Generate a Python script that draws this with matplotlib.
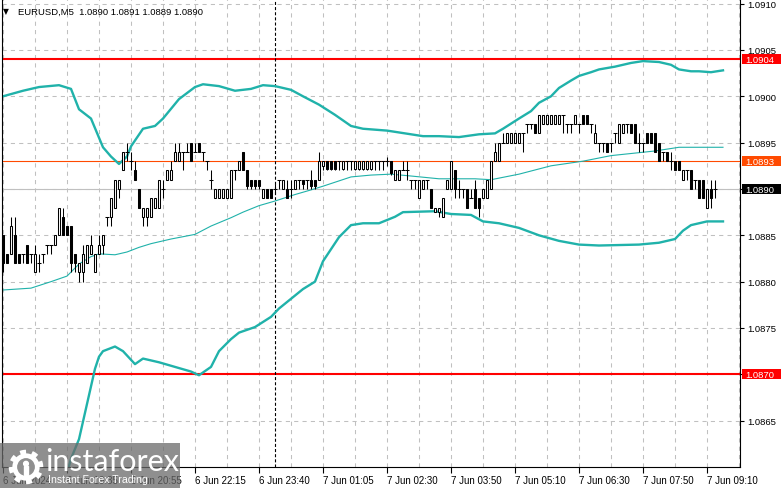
import matplotlib
matplotlib.use('Agg')
import matplotlib.pyplot as plt
import matplotlib.patches as mpatches
import matplotlib.transforms as mtransforms
from matplotlib import font_manager
import numpy as np

# EURUSD M5 candles, bar 0 = 6 Jun 18:15
opens = [
    1.0885, 1.0883, 1.0883, 1.0885, 1.0883, 1.0883, 1.0884, 1.0883, 1.0881, 1.0882,
    1.0883, 1.0884, 1.0884, 1.0884, 1.0885, 1.0887, 1.0886, 1.0886, 1.0883, 1.0881,
    1.0881, 1.0882, 1.0883, 1.0881, 1.0883, 1.0884, 1.0887, 1.0887, 1.0888, 1.0890,
    1.0892, 1.0894, 1.0893, 1.0892, 1.0890, 1.0887, 1.0887, 1.0887, 1.0888, 1.0888,
    1.0890, 1.0891, 1.0891, 1.0893, 1.0893, 1.0894, 1.0894, 1.0895, 1.0894, 1.0895,
    1.0894, 1.0893, 1.0891, 1.0889, 1.0889, 1.0889, 1.0889, 1.0889, 1.0892, 1.0892,
    1.0894, 1.0892, 1.0891, 1.0891, 1.0891, 1.0889, 1.0890, 1.0890, 1.0890, 1.0891,
    1.0890, 1.0890, 1.0890, 1.0890, 1.0891, 1.0891, 1.0891, 1.0891, 1.0891, 1.0891,
    1.08925, 1.0893, 1.0893, 1.0893, 1.0893, 1.08922, 1.0893, 1.0893, 1.08922, 1.08922,
    1.08922, 1.08922, 1.08922, 1.0893, 1.0893, 1.0893, 1.0893, 1.0893, 1.0891, 1.0891,
    1.0892, 1.0892, 1.0891, 1.0891, 1.0889, 1.0890, 1.0891, 1.0890, 1.08875, 1.08875,
    1.0887, 1.0890, 1.0890, 1.0892, 1.0890, 1.0890, 1.0890, 1.0889, 1.0890, 1.0889,
    1.0889, 1.0889, 1.0890, 1.0893, 1.0893, 1.0895, 1.0895, 1.0895, 1.0895, 1.0895,
    1.0896, 1.0897, 1.0897, 1.0897, 1.0896, 1.0897, 1.0897, 1.0897, 1.0897, 1.0897,
    1.0898, 1.0897, 1.0897, 1.0897, 1.0897, 1.0898, 1.0898, 1.0897, 1.0895, 1.0895,
    1.0895, 1.0895, 1.0895, 1.0896, 1.0895, 1.0896, 1.0897, 1.0897, 1.0897, 1.0895,
    1.0895, 1.0896, 1.0896, 1.0896, 1.0895, 1.0894, 1.0894, 1.0893, 1.0893, 1.0893,
    1.0891, 1.0892, 1.0892, 1.0891, 1.0891, 1.0891, 1.0888, 1.0890, 1.0890,
]
highs = [
    1.0885, 1.0883, 1.0887, 1.0887, 1.0883, 1.0883, 1.0884, 1.0883, 1.0884, 1.0883,
    1.0883, 1.0884, 1.0884, 1.0885, 1.0888, 1.0888, 1.0886, 1.0886, 1.0883, 1.0882,
    1.0884, 1.0884, 1.0885, 1.0883, 1.0885, 1.0885, 1.0887, 1.0889, 1.0891, 1.0891,
    1.0894, 1.0895, 1.0894, 1.0893, 1.0890, 1.0888, 1.0888, 1.0889, 1.0889, 1.0891,
    1.0891, 1.0892, 1.0893, 1.0895, 1.0895, 1.0894, 1.0895, 1.0895, 1.0895, 1.0895,
    1.0894, 1.0893, 1.0892, 1.0890, 1.0890, 1.0890, 1.0890, 1.0892, 1.0892, 1.0893,
    1.0894, 1.0892, 1.0891, 1.0891, 1.0891, 1.0890, 1.0890, 1.0890, 1.08905, 1.0891,
    1.0891, 1.0891, 1.0891, 1.0891, 1.0891, 1.0891, 1.0891, 1.0892, 1.0891, 1.0894,
    1.0893, 1.0893, 1.0893, 1.0893, 1.0893, 1.0893, 1.0893, 1.0893, 1.0893, 1.0893,
    1.0893, 1.0893, 1.0893, 1.0893, 1.0893, 1.0893, 1.08935, 1.0893, 1.0892, 1.0892,
    1.0893, 1.0893, 1.0891, 1.0891, 1.0891, 1.0891, 1.0891, 1.0890, 1.0888, 1.0888,
    1.0889, 1.0891, 1.0893, 1.0892, 1.0891, 1.0890, 1.0890, 1.0890, 1.0891, 1.0889,
    1.0890, 1.0891, 1.0893, 1.0895, 1.0895, 1.0896, 1.0896, 1.0896, 1.0896, 1.0896,
    1.0896, 1.0897, 1.0897, 1.0897, 1.0898, 1.0898, 1.0898, 1.0898, 1.0898, 1.0898,
    1.0898, 1.0897, 1.0897, 1.0898, 1.0897, 1.0898, 1.0898, 1.0897, 1.0897, 1.0895,
    1.0895, 1.0895, 1.0895, 1.0896, 1.0897, 1.0897, 1.0897, 1.0897, 1.0897, 1.0896,
    1.0895, 1.0896, 1.0896, 1.0896, 1.0895, 1.0894, 1.0894, 1.0894, 1.0893, 1.0893,
    1.0892, 1.0892, 1.0892, 1.0891, 1.0891, 1.0891, 1.0890, 1.0891, 1.0891,
]
lows = [
    1.0881, 1.0882, 1.0883, 1.0882, 1.0882, 1.0882, 1.0882, 1.0882, 1.0881, 1.0881,
    1.0882, 1.0883, 1.0883, 1.0884, 1.0885, 1.0885, 1.0885, 1.0881, 1.0881, 1.0880,
    1.0880, 1.0882, 1.0883, 1.0881, 1.0883, 1.0883, 1.0886, 1.0886, 1.0888, 1.0889,
    1.0892, 1.0893, 1.0892, 1.0891, 1.0888, 1.0886, 1.0886, 1.0887, 1.0888, 1.0888,
    1.0889, 1.0891, 1.0891, 1.0893, 1.0893, 1.0892, 1.0894, 1.0893, 1.0894, 1.0894,
    1.0893, 1.0892, 1.0890, 1.0889, 1.0889, 1.0889, 1.0889, 1.0889, 1.0891, 1.0892,
    1.0892, 1.0890, 1.0890, 1.0890, 1.0890, 1.0889, 1.0889, 1.0889, 1.08895, 1.0890,
    1.0890, 1.0889, 1.0889, 1.0890, 1.0890, 1.0890, 1.0890, 1.0890, 1.0890, 1.0891,
    1.0892, 1.0892, 1.0892, 1.0892, 1.0892, 1.0892, 1.0892, 1.0892, 1.0892, 1.0892,
    1.0892, 1.0892, 1.0892, 1.0892, 1.0892, 1.0892, 1.08925, 1.08915, 1.0891, 1.0891,
    1.0892, 1.0891, 1.0890, 1.0890, 1.0889, 1.0890, 1.0890, 1.0888, 1.08875, 1.0887,
    1.0887, 1.0890, 1.0890, 1.0889, 1.0889, 1.0889, 1.0888, 1.0889, 1.0888, 1.0887,
    1.0889, 1.0889, 1.0890, 1.0893, 1.0893, 1.0895, 1.0895, 1.0895, 1.0895, 1.0895,
    1.0894, 1.0896, 1.08965, 1.0896, 1.0896, 1.0897, 1.0897, 1.0897, 1.0897, 1.0897,
    1.0896, 1.0896, 1.0896, 1.0897, 1.0896, 1.0897, 1.0897, 1.0896, 1.0895, 1.0894,
    1.0894, 1.0894, 1.0894, 1.0895, 1.0895, 1.0896, 1.0896, 1.0896, 1.0895, 1.0894,
    1.0894, 1.0895, 1.0895, 1.0894, 1.0893, 1.0893, 1.0893, 1.0892, 1.0892, 1.0892,
    1.0891, 1.0891, 1.0890, 1.0890, 1.0889, 1.0889, 1.0888, 1.0888, 1.0889,
]
closes = [
    1.0882, 1.0882, 1.0886, 1.0882, 1.0882, 1.0883, 1.0882, 1.0883, 1.0883, 1.0882,
    1.0883, 1.0884, 1.0884, 1.0885, 1.0888, 1.0885, 1.0885, 1.0882, 1.0882, 1.0882,
    1.0883, 1.0884, 1.0884, 1.0883, 1.0884, 1.0885, 1.0887, 1.0889, 1.0891, 1.0891,
    1.0894, 1.0894, 1.0893, 1.0891, 1.0888, 1.0888, 1.0888, 1.0889, 1.0889, 1.0891,
    1.0890, 1.0892, 1.0892, 1.0894, 1.0894, 1.0894, 1.0894, 1.0893, 1.0894, 1.0894,
    1.0894, 1.0893, 1.0891, 1.0890, 1.0890, 1.0890, 1.0890, 1.0892, 1.0892, 1.0893,
    1.0892, 1.08903, 1.08903, 1.08903, 1.08903, 1.0890, 1.0889, 1.0889, 1.0890, 1.0891,
    1.0891, 1.0889, 1.0890, 1.0891, 1.0891, 1.08905, 1.0891, 1.08903, 1.08903, 1.0893,
    1.0893, 1.08922, 1.08922, 1.08922, 1.0893, 1.0893, 1.0893, 1.0893, 1.0893, 1.0893,
    1.0893, 1.0893, 1.0893, 1.0893, 1.0893, 1.0893, 1.0893, 1.08917, 1.0892, 1.0892,
    1.0892, 1.0892, 1.0891, 1.0891, 1.0891, 1.0891, 1.0891, 1.0888, 1.0888, 1.0888,
    1.0889, 1.0891, 1.0893, 1.0890, 1.0890, 1.0890, 1.0888, 1.0889, 1.0888, 1.0888,
    1.0890, 1.0891, 1.0893, 1.0894, 1.0895, 1.0895, 1.0896, 1.0896, 1.0896, 1.0896,
    1.0896, 1.0897, 1.0897, 1.0896, 1.0898, 1.0898, 1.0898, 1.0898, 1.0898, 1.0898,
    1.0898, 1.0897, 1.0897, 1.0898, 1.0897, 1.0897, 1.0897, 1.0897, 1.0896, 1.0895,
    1.0895, 1.0894, 1.0895, 1.0896, 1.0897, 1.0897, 1.0897, 1.0896, 1.0895, 1.0895,
    1.0895, 1.0895, 1.0895, 1.0894, 1.0893, 1.0894, 1.0893, 1.0893, 1.0892, 1.0892,
    1.0892, 1.0892, 1.0890, 1.0891, 1.0889, 1.0889, 1.0890, 1.0889, 1.0890,
]

# Bollinger bands (bar index, price)
bb_upper_bar = [0, 5, 9, 14, 17, 19, 22, 25, 27, 29, 31, 32, 35, 38, 40, 44, 48, 50, 54, 58,
                62, 65, 68, 72, 75, 79, 83, 87, 90, 96, 99, 105, 109, 114, 119, 123, 125, 129,
                132, 134, 137, 139, 142, 144, 147, 149, 153, 157, 160, 164, 167, 169, 172, 174,
                177, 180]
bb_upper = [1.09000, 1.09006, 1.09010, 1.09012, 1.09008, 1.08986, 1.08976, 1.08945, 1.08935,
            1.08927, 1.08935, 1.08946, 1.08965, 1.08968, 1.08976, 1.08997, 1.09010, 1.09013,
            1.09011, 1.09006, 1.09008, 1.09012, 1.09011, 1.09007, 1.09000, 1.08991, 1.08980,
            1.08968, 1.08965, 1.08963, 1.08961, 1.08957, 1.08957, 1.08956, 1.08959, 1.08960,
            1.08965, 1.08976, 1.08984, 1.08993, 1.09000, 1.09009, 1.09017, 1.09022, 1.09026,
            1.09029, 1.09032, 1.09036, 1.09038, 1.09037, 1.09034, 1.09029, 1.09027, 1.09027,
            1.09026, 1.09028]
bb_mid_bar = [0, 7, 12, 16, 19, 22, 24, 28, 31, 34, 37, 42, 48, 52, 57, 60, 64, 68, 73, 77,
              80, 87, 92, 97, 102, 109, 118, 122, 129, 137, 145, 152, 163, 169, 180]
bb_mid = [1.08791, 1.08793, 1.08800, 1.08806, 1.08819, 1.08827, 1.08830, 1.08829, 1.08832,
          1.08837, 1.08841, 1.08846, 1.08851, 1.08860, 1.08869, 1.08875, 1.08882, 1.08887,
          1.08894, 1.08899, 1.08903, 1.08913, 1.08915, 1.08916, 1.08914, 1.08911, 1.08911,
          1.08910, 1.08916, 1.08925, 1.08930, 1.08936, 1.08941, 1.08945, 1.08945]
bb_lower_bar = [13, 15, 16, 17, 19, 21, 23, 24, 25, 28, 30, 33, 35, 39, 43, 47, 49, 52, 54,
                57, 59, 63, 67, 69, 73, 75, 78, 80, 84, 87, 90, 94, 98, 100, 108, 112, 117,
                120, 124, 129, 134, 139, 144, 149, 159, 164, 168, 170, 172, 174, 176, 180]
bb_lower = [1.08566, 1.08576, 1.08593, 1.08609, 1.08630, 1.08668, 1.08706, 1.08719, 1.08725,
            1.08730, 1.08725, 1.08711, 1.08717, 1.08713, 1.08708, 1.08703, 1.08699, 1.08708,
            1.08725, 1.08738, 1.08745, 1.08751, 1.08762, 1.08771, 1.08785, 1.08792, 1.08800,
            1.08822, 1.08848, 1.08861, 1.08863, 1.08863, 1.08870, 1.08875, 1.08876, 1.08873,
            1.08872, 1.08865, 1.08863, 1.08858, 1.08850, 1.08844, 1.08840, 1.08839, 1.08840,
            1.08842, 1.08846, 1.08855, 1.08861, 1.08863, 1.08865, 1.08865]

time_label_bars = [0, 16, 32, 48, 64, 80, 96, 112, 128, 144, 160, 176]
time_labels = ['6 Jun 2024', '6 Jun 19:35', '6 Jun 20:55', '6 Jun 22:15', '6 Jun 23:40',
               '7 Jun 01:05', '7 Jun 02:30', '7 Jun 03:50', '7 Jun 05:10', '7 Jun 06:30',
               '7 Jun 07:50', '7 Jun 09:10']
price_ticks = [1.0865, 1.0870, 1.0875, 1.0880, 1.0885, 1.0890, 1.0895, 1.0900, 1.0905, 1.0910]
red_levels = [1.0904, 1.0870]
pivot_level = 1.0893
bid_price = 1.0890
day_sep_bar = 68
title = 'EURUSD,M5  1.0890 1.0891 1.0889 1.0890'

W, H = 781, 489
TEAL = '#20B2AA'

names = {f.name for f in font_manager.fontManager.ttflist}
lab_font = 'Liberation Sans Narrow' if 'Liberation Sans Narrow' in names else 'Liberation Sans'
plt.rcParams['font.family'] = ['Liberation Sans', 'DejaVu Sans']
plt.rcParams['lines.scale_dashes'] = False

fig = plt.figure(figsize=(W / 100, H / 100), dpi=100)
ax = fig.add_axes([2 / W, 21 / H, 738 / W, 468 / H])
ax.set_xlim(-0.25, 184.25)
ax.set_ylim(1.0860, 1.09105)

# grid
ax.set_xticks(time_label_bars)
ax.set_xticks(range(8, 185, 16), minor=True)
ax.set_yticks(price_ticks)
ax.grid(True, which='both', color='#c0c0c0', lw=0.75, ls=(0, (3, 3)), zorder=0)
ax.set_axisbelow(True)

# level lines
ax.axhline(bid_price, color='#c0c0c0', lw=0.8, zorder=1)
ax.axhline(pivot_level, color='#ff4a00', lw=0.8, zorder=1.2)
for lv in red_levels:
    ax.axhline(lv, color='red', lw=1.5, zorder=1.2)
ax.axvline(day_sep_bar, color='black', lw=0.8, ls=(0, (2.2, 1.5)), zorder=1.3)

# bollinger bands
ax.plot(bb_upper_bar, bb_upper, color=TEAL, lw=1.7, zorder=2)
ax.plot(bb_mid_bar, bb_mid, color=TEAL, lw=0.8, zorder=2)
ax.plot(bb_lower_bar, bb_lower, color=TEAL, lw=1.7, zorder=2)

# candles
o = np.array(opens); h = np.array(highs); l = np.array(lows); c = np.array(closes)
x = np.arange(len(o))
up = c > o + 1e-7
dn = c < o - 1e-7
flat = ~(up | dn)
ax.vlines(x, l, h, color='black', lw=0.75, zorder=3)
ax.bar(x[up], c[up] - o[up], bottom=o[up], width=0.5, facecolor='white',
       edgecolor='black', linewidth=0.75, zorder=4)
ax.bar(x[dn], o[dn] - c[dn], bottom=c[dn], width=0.5, facecolor='black',
       edgecolor='black', linewidth=0.75, zorder=4)
ax.hlines(c[flat], x[flat] - 0.4, x[flat] + 0.4, color='black', lw=0.75, zorder=4)

# axes look
for s in ['left', 'right', 'bottom']:
    ax.spines[s].set_color('black')
    ax.spines[s].set_linewidth(0.8)
ax.spines['top'].set_visible(False)
ax.yaxis.tick_right()
ax.tick_params(axis='y', which='major', length=3, width=0.8, pad=2, labelsize=6.8)
ax.tick_params(axis='x', which='major', length=4, width=0.8, pad=1.5, labelsize=7.0)
ax.tick_params(axis='x', which='minor', length=0)
ax.set_yticklabels(['' if p in (1.0870, 1.0890) else f'{p:.4f}' for p in price_ticks],
                   family=lab_font)
ax.set_xticklabels(time_labels, family=lab_font, ha='left')

# price boxes on the right scale
bt = mtransforms.blended_transform_factory(fig.transFigure, ax.transData)
box_h = 0.000108
for price, col in [(1.0904, 'red'), (1.0870, 'red'), (pivot_level, '#ff4a00'), (bid_price, 'black')]:
    fig.add_artist(mpatches.Rectangle((742 / W, price - box_h / 2), 39 / W, box_h,
                                      transform=bt, facecolor=col, edgecolor='none', zorder=5))
    fig.text(745 / W, price - 0.000005, f'{price:.4f}', transform=bt, color='white',
             va='center', ha='left', fontsize=6.8, family=lab_font, zorder=6)

# header
fig.text(3 / W, 1 - 12 / H, '\u25bc', fontsize=5.5, family='DejaVu Sans', va='center', ha='left')
fig.text(18 / W, 1 - 12 / H, title, fontsize=6.8, va='center', ha='left', color='black')

# watermark
fig.add_artist(mpatches.Rectangle((0, 0), 180 / W, 45 / H, transform=fig.transFigure,
                                  facecolor='#6a6a6a', edgecolor='none', alpha=0.75, zorder=7))
fig.text(45 / W, 1 - 462 / H, 'instaforex', fontsize=22, color='white', va='center',
         ha='left', family=['Lato', 'DejaVu Sans'], zorder=8)
fig.text(48 / W, 1 - 480 / H, 'Instant Forex Trading', fontsize=7.6, color='white',
         va='center', ha='left', zorder=8)
lax = fig.add_axes([6 / W, 1 - 488 / H, 40 / W, 40 / H], zorder=9)
lax.set_xlim(-1.1, 1.1); lax.set_ylim(-1.1, 1.1); lax.axis('off')
ang = np.linspace(0, 2 * np.pi, 400)
rad = np.where((np.mod(ang * 8 / (2 * np.pi), 1) < 0.5), 0.95, 0.75)
lax.fill(rad * np.cos(ang), rad * np.sin(ang), color='white', lw=0)
lax.add_patch(mpatches.Circle((0, 0), 0.45, color='#8f8f8f'))
lax.add_patch(mpatches.Circle((0, 0.18), 0.13, color='white'))
lax.add_patch(mpatches.Rectangle((-0.09, -0.45), 0.18, 0.5, color='white'))

fig.savefig('out.png', dpi=100)
